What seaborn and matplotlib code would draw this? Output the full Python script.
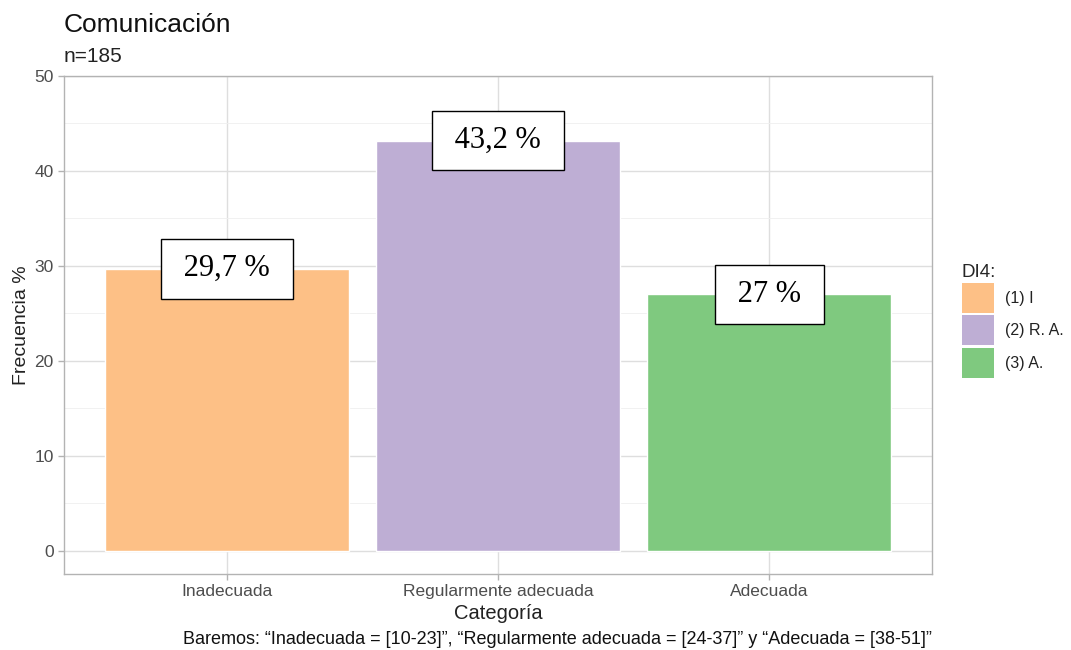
import matplotlib
matplotlib.use("Agg")
import matplotlib.pyplot as plt
import seaborn as sns
import pandas as pd
from matplotlib.patches import Patch
from matplotlib.ticker import MultipleLocator

categories = ["Inadecuada", "Regularmente adecuada", "Adecuada"]
values = [29.7, 43.2, 27.0]
value_labels = ["29,7 %", "43,2 %", "27 %"]
legend_labels = ["(1) I", "(2) R. A.", "(3) A."]
colors = ["#FDC086", "#BEAED4", "#7FC97F"]

df = pd.DataFrame({"Categoria": categories, "Frecuencia": values})

sns.set_theme(style="white")
plt.rcParams['font.family'] = ['Liberation Sans', 'DejaVu Sans']

W, H = 1071, 650
fig = plt.figure(figsize=(W / 100, H / 100), dpi=100)
ax = fig.add_axes([64 / W, (H - 574) / H, (932 - 64) / W, (574 - 76) / H])

sns.barplot(data=df, x="Categoria", y="Frecuencia", hue="Categoria",
            palette=colors, order=categories, hue_order=categories,
            width=0.9, dodge=False, legend=False, ax=ax, saturation=1,
            zorder=3)

ax.set_xlim(-0.6, 2.6)
ax.set_ylim(-2.45, 50)
ax.yaxis.set_major_locator(MultipleLocator(10))
ax.yaxis.set_minor_locator(MultipleLocator(5))
ax.grid(True, which="major", color="#DEDEDE", linewidth=1.0, zorder=0)
ax.grid(True, which="minor", axis="y", color="#EFEFEF", linewidth=0.6, zorder=0)
ax.set_axisbelow(True)
for s in ax.spines.values():
    s.set_color("#B3B3B3")
    s.set_linewidth(1.0)
ax.tick_params(axis="both", which="major", length=4, color="#B3B3B3",
               labelcolor="#4D4D4D", labelsize=12.5, width=1, direction="out")
ax.tick_params(axis="both", which="minor", length=0)
ax.tick_params(axis="y", left=True)
ax.tick_params(axis="x", bottom=True)
ax.set_xlabel("Categoría", fontsize=14.5, color="#222222", labelpad=3)
ax.set_ylabel("Frecuencia %", fontsize=14, color="#222222", labelpad=3)

for i, (v, lab) in enumerate(zip(values, value_labels)):
    ax.text(i, v, " " + lab + " ", ha="center", va="center", fontsize=22,
            family=["Liberation Serif", "DejaVu Serif"], color="black", zorder=5,
            bbox=dict(boxstyle="square,pad=0.5", facecolor="white",
                      edgecolor="black", linewidth=1.0))

fig.text(64 / W, 1 - 25 / H, "Comunicación", fontsize=19, ha="left",
         va="center", color="#111111")
fig.text(64 / W, 1 - 56 / H, "n=185", fontsize=15, ha="left",
         va="center", color="#222222")
fig.text(557 / W, 1 - 640 / H,
         "Baremos: \u201cInadecuada = [10-23]\u201d, \u201cRegularmente adecuada = [24-37]\u201d y \u201cAdecuada = [38-51]\u201d",
         fontsize=13, ha="center", va="center", color="#111111")

handles = [Patch(facecolor=c, edgecolor="none") for c in colors]
leg = fig.legend(handles, legend_labels, title="DI4:", loc="upper left",
                 bbox_to_anchor=(957 / W, 1 - 259 / H), frameon=False,
                 fontsize=11.5, title_fontsize=13.5, handlelength=2.0,
                 handleheight=2.5, handletextpad=0.7, labelspacing=0.15,
                 borderaxespad=0, borderpad=0.3)
leg._legend_box.align = "left"
for t in leg.get_texts():
    t.set_color("#222222")

fig.savefig("out.png", dpi=100)
